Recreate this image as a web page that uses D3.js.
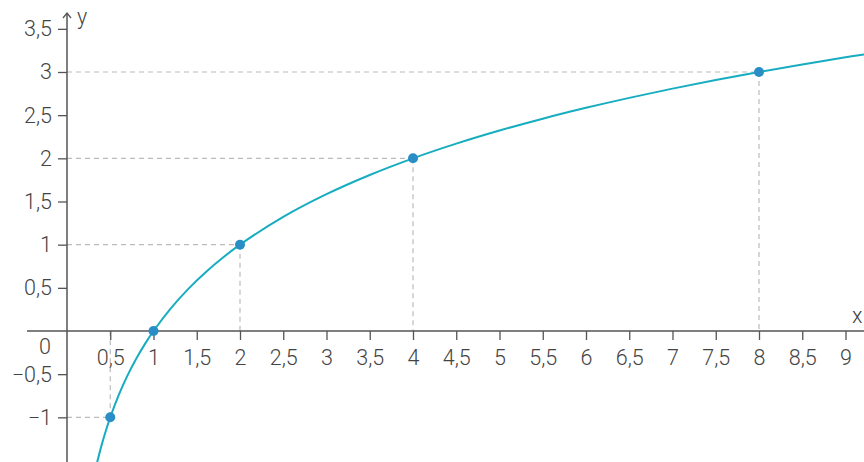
<!DOCTYPE html>
<html><head><meta charset="utf-8">
<script src="https://cdn.jsdelivr.net/npm/d3@7"></script>
<style>
body{margin:0;background:#fff;}
text{font-family:Roboto,"Noto Sans",sans-serif;font-weight:300;fill:#444;}
</style></head>
<body><svg id="c" width="864" height="462"></svg>
<script>
const xTicks = [0.5,1,1.5,2,2.5,3,3.5,4,4.5,5,5.5,6,6.5,7,7.5,8,8.5,9];
const yTicks = [-1,-0.5,0.5,1,1.5,2,2.5,3,3.5];
const pointX = [0.5,1,2,4,8];
const pointY = [-1,0,1,2,3];
const curveX = [0.349,0.4,0.45,0.5,0.6,0.7,0.8,0.9,1,1.2,1.4,1.6,1.8,2,2.5,3,3.5,4,4.5,5,5.5,6,6.5,7,7.5,8,8.5,9,9.22];
const curveY = curveX.map(v => Math.log2(v));

const svg = d3.select("#c");
const x = d3.scaleLinear().domain([0, 9]).range([67, 845.5]);
const y = d3.scaleLinear().domain([0, 3]).range([331, 72]);
const fmt = v => (v < 0 ? "\u2212" : "") + String(Math.abs(v)).replace(".", ",");
const FS = "21.5px";

// dashed guides
const g = svg.append("g");
pointX.forEach((px, i) => {
  const py = pointY[i];
  if (py === 0) return;
  g.append("line").attr("x1", x(0)).attr("x2", x(px)).attr("y1", y(py)).attr("y2", y(py))
    .attr("stroke", "#bbb").attr("stroke-width", 1.2).attr("stroke-dasharray", "5,4");
  g.append("line").attr("x1", x(px)).attr("x2", x(px)).attr("y1", y(py)).attr("y2", y(0))
    .attr("stroke", "#bbb").attr("stroke-width", 1.2).attr("stroke-dasharray", "5,4");
});

// axes
const xAxis = d3.axisBottom(x).tickValues(xTicks).tickSize(9).tickPadding(10).tickFormat(fmt);
const xg = svg.append("g").attr("transform", `translate(0,${y(0)})`).call(xAxis);
xg.select(".domain").remove();
xg.selectAll("line").attr("stroke", "#555").attr("stroke-width", 1.3);
xg.selectAll("text").style("font-size", FS).style("font-family", "Roboto, sans-serif").style("font-weight", 300).attr("fill", "#444");
svg.append("line").attr("x1", 27).attr("x2", 864).attr("y1", y(0)).attr("y2", y(0))
  .attr("stroke", "#555").attr("stroke-width", 1.5);

const yAxis = d3.axisLeft(y).tickValues(yTicks).tickSize(9).tickPadding(6).tickFormat(fmt);
const yg = svg.append("g").attr("transform", `translate(${x(0)},0)`).call(yAxis);
yg.select(".domain").remove();
yg.selectAll("line").attr("stroke", "#555").attr("stroke-width", 1.3);
yg.selectAll("text").style("font-size", FS).style("font-family", "Roboto, sans-serif").style("font-weight", 300).attr("fill", "#444");
svg.append("line").attr("x1", x(0)).attr("x2", x(0)).attr("y1", 13).attr("y2", 462)
  .attr("stroke", "#555").attr("stroke-width", 1.5);
svg.append("path").attr("d", `M${x(0)-4},${18} L${x(0)},${13} L${x(0)+4},${18}`)
  .attr("fill", "none").attr("stroke", "#555").attr("stroke-width", 1.3);

svg.append("text").attr("x", 77).attr("y", 24).style("font-size", FS).text("y");
svg.append("text").attr("x", 852).attr("y", 323).style("font-size", FS).text("x");
svg.append("text").attr("x", 45).attr("y", 354).attr("text-anchor", "middle").style("font-size", FS).text("0");

// curve
const line = d3.line().x(d => x(d[0])).y(d => y(d[1])).curve(d3.curveCatmullRom);
svg.append("path").datum(curveX.map((v, i) => [v, curveY[i]]))
  .attr("d", line).attr("fill", "none").attr("stroke", "#17adc0").attr("stroke-width", 2);

// points
svg.selectAll("circle.p").data(pointX).enter().append("circle")
  .attr("cx", d => x(d)).attr("cy", (d, i) => y(pointY[i])).attr("r", 5).attr("fill", "#2a8ec6");
</script></body></html>
